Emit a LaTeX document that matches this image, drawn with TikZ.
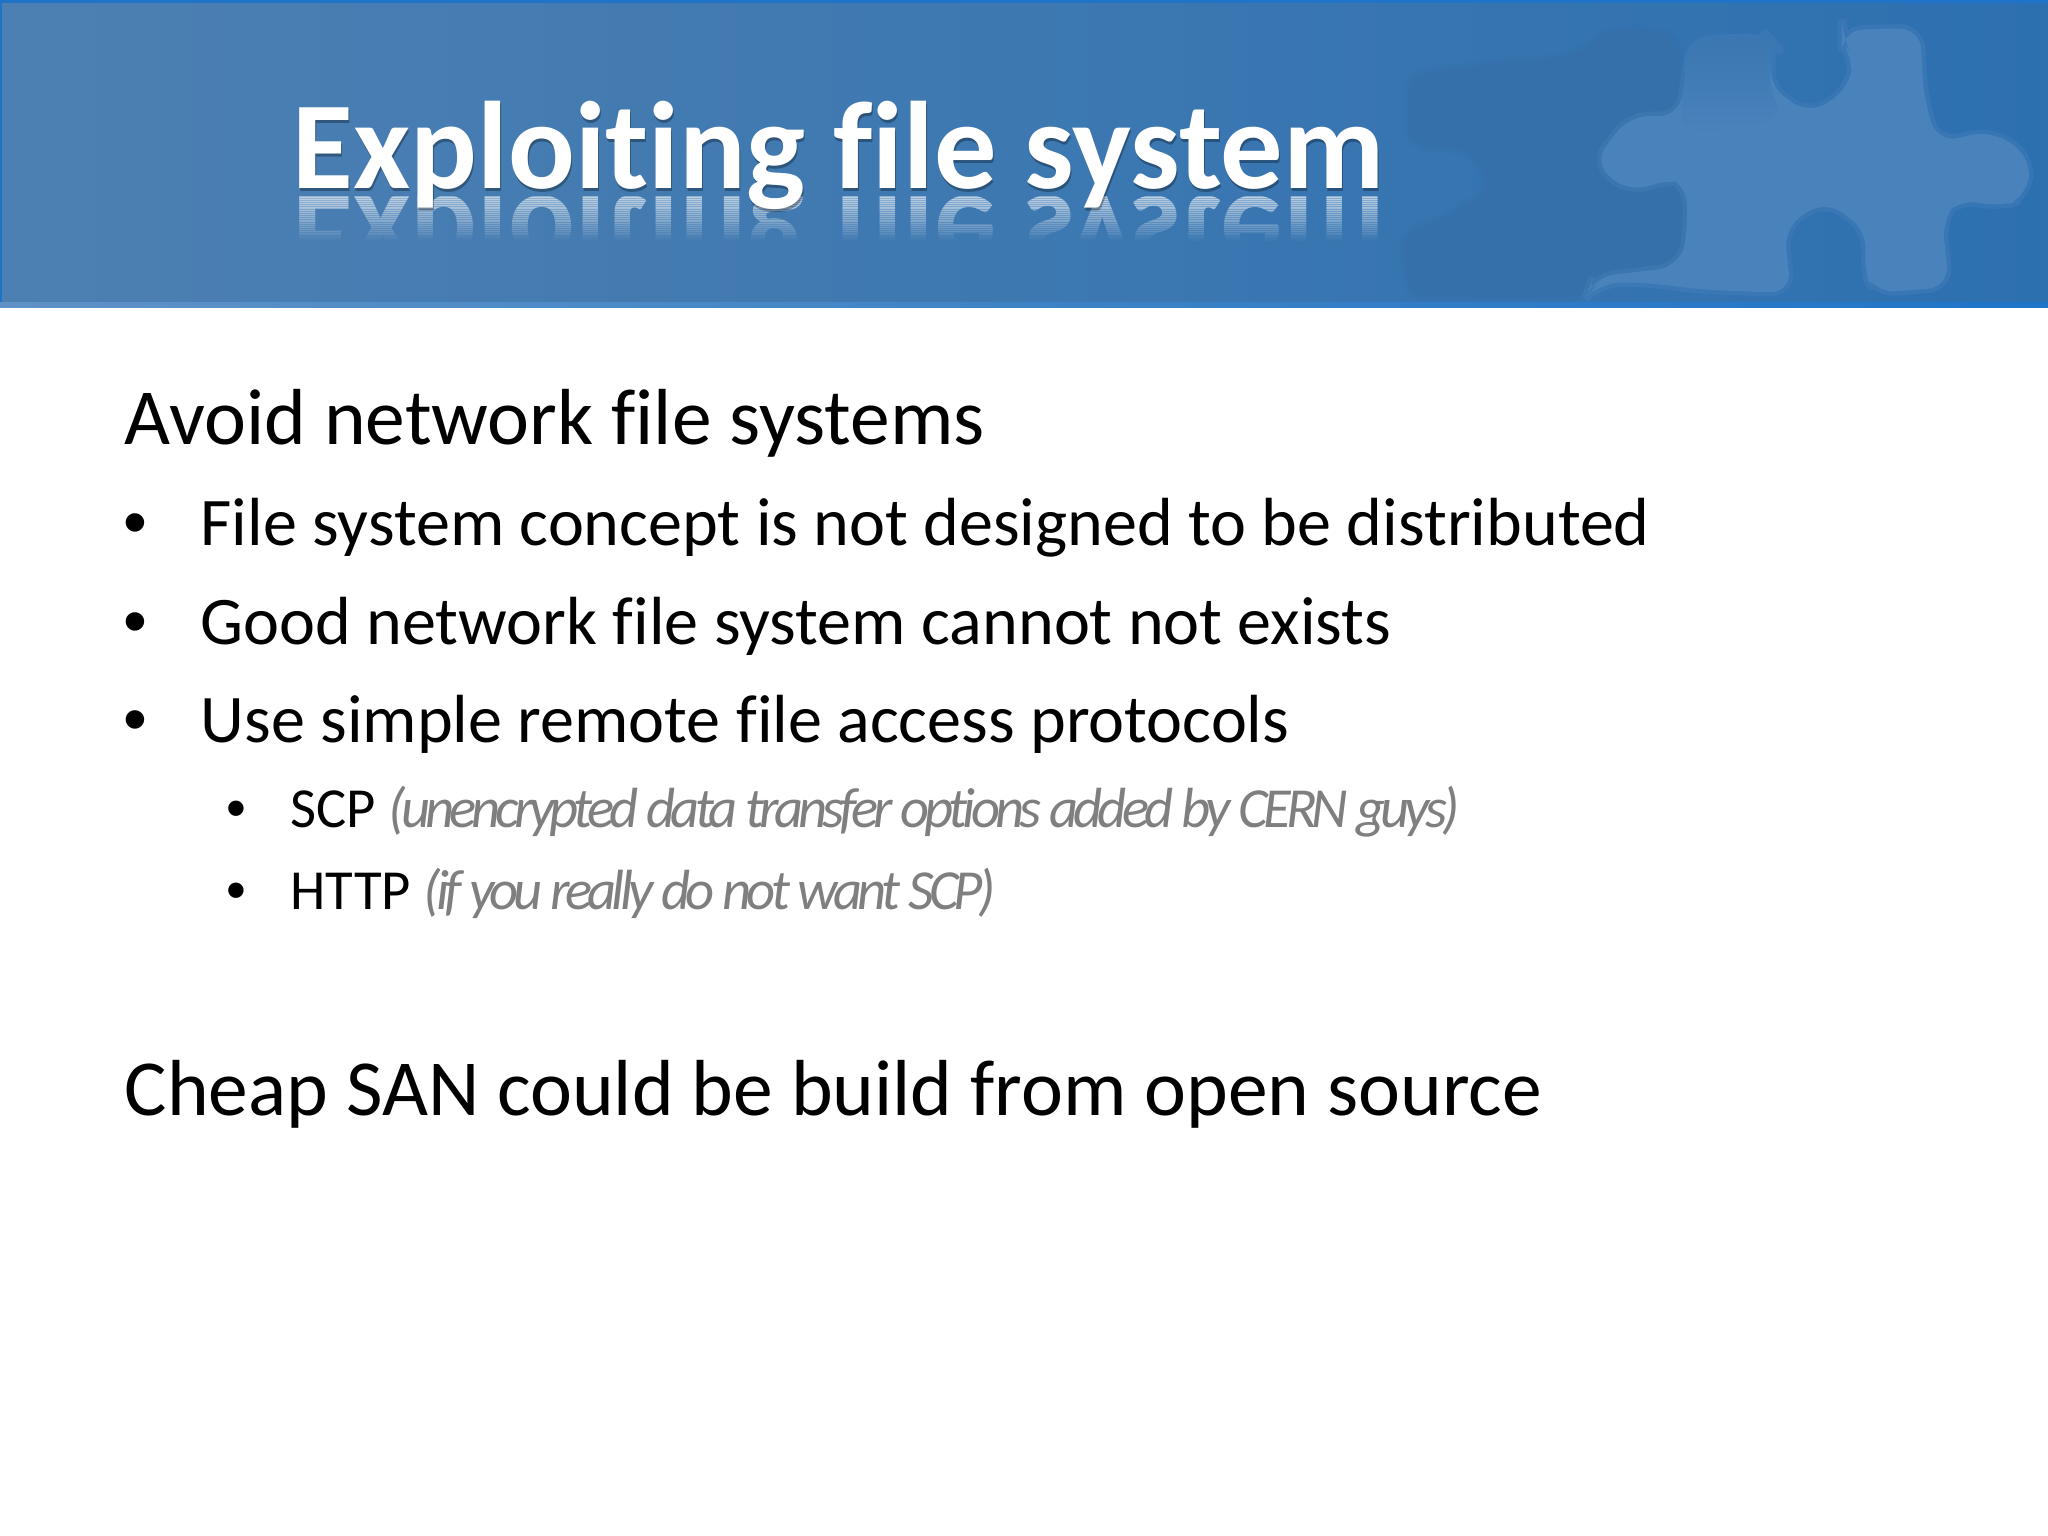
\documentclass[tikz,border=0pt]{standalone}
\usepackage{fontspec}
\setmainfont[Ligatures=NoCommon]{Carlito}
\newfontfamily\dotfont{Liberation Sans}
\definecolor{headleft}{HTML}{4D80B2}
\definecolor{headmid}{HTML}{3A76AE}
\definecolor{headright}{HTML}{2D70B0}
\definecolor{headline}{HTML}{1F74C8}
\definecolor{ruleleft}{HTML}{5E92C6}
\definecolor{piecelight}{HTML}{4A82BC}
\definecolor{piecedim}{HTML}{3B76B1}
\definecolor{piecedark}{HTML}{3570AB}
\definecolor{notegrey}{HTML}{7F7F7F}
\tikzset{
  titletext/.style={anchor=base west,inner sep=0pt,font=\fontsize{35.4}{40}\selectfont\bfseries},
  headtext/.style={anchor=base west,inner sep=0pt,font=\fontsize{22.6}{27}\selectfont},
  itemtext/.style={anchor=base west,inner sep=0pt,font=\fontsize{19.37}{23}\selectfont},
  subtext/.style={anchor=base west,inner sep=0pt,font=\fontsize{16.1}{19}\selectfont},
  notetext/.style={anchor=base west,inner sep=0pt,text=notegrey,font=\fontsize{16.1}{19}\selectfont\itshape\addfontfeatures{LetterSpace=-8.6}},
  itemdot/.style={anchor=base west,inner sep=0pt,font=\fontsize{19.37}{23}\selectfont\dotfont},
  subdot/.style={anchor=base west,inner sep=0pt,font=\fontsize{16.1}{19}\selectfont\dotfont},
  softedge/.style={draw=#1,draw opacity=0.35,line width=2.5pt}
}
\begin{document}
\begin{tikzpicture}[x=0.01cm,y=-0.01cm]
  \useasboundingbox (0,0) rectangle (2048,1536);
  % banner
  \shade[left color=headleft,middle color=headmid,right color=headright] (0,0) rectangle (2048,304);
  \fill[headline] (0,0) rectangle (2048,3);
  \fill[headline] (0,0) rectangle (2,304);
  % puzzle pieces
  \fill[piecedark,softedge=piecedark,rounded corners=5pt] (1408,75) -- (1500,62) -- (1582,55) -- (1600,32) -- (1650,28) -- (1680,40) -- (1680,117) -- (1630,115) -- (1593,163) -- (1630,193) -- (1671,178) -- (1686,182) -- (1688,233) -- (1679,267) -- (1593,277) -- (1586,297) -- (1408,297) -- (1403,230) -- (1430,225) -- (1492,190) -- (1470,150) -- (1408,145) -- cycle;
  \fill[piecelight,softedge=piecelight,rounded corners=6pt] (1842,30) -- (1920,28) -- (1924,100) -- (1938,143) -- (1991,130) -- (2031,157) -- (2027,197) -- (2000,208) -- (1960,198) -- (1942,217) -- (1949,287) -- (1875,293) -- (1862,270) -- (1869,233) -- (1826,200) -- (1784,227) -- (1791,293) -- (1706,290) -- (1639,282) -- (1599,283) -- (1586,297) -- (1593,277) -- (1679,267) -- (1688,233) -- (1686,182) -- (1671,178) -- (1630,193) -- (1593,163) -- (1630,115) -- (1679,117) -- (1691,40) -- (1768,37) -- (1777,47) -- (1766,83) -- (1809,115) -- (1851,87) -- (1853,57) -- (1842,40) -- cycle;
  \shade[top color=piecedim,bottom color=piecelight,rounded corners=6pt] (1691,40) -- (1768,37) -- (1777,47) -- (1766,83) -- (1785,118) -- (1690,135) -- (1679,117) -- cycle;
  \shade[left color=ruleleft,right color=headline] (0,302) rectangle (2048,307);
  % title
  \foreach \k [evaluate=\k as \fade using 0.42*(1-\k/24)] in {0,...,23} {
    \begin{scope}
      \clip (280,196+1.85*\k) rectangle (1400,196+1.85*\k+1.85);
      \node[titletext,text=white,yscale=-1,opacity=\fade] (titlemirror\k) at (292,196) {Exploiting file system};
    \end{scope}
  }
  \node[titletext,text=black,opacity=0.3] (titleshade) at (293,191) {Exploiting file system};
  \node[titletext,text=white] (title) at (292,188) {Exploiting file system};
  % body
  \node[headtext] (avoid) at (124,444) {Avoid network file systems};
  \node[itemdot] (dotone) at (123,545) {•};
  \node[itemtext] (itemone) at (200,545) {File system concept is not designed to be distributed};
  \node[itemdot] (dottwo) at (123,644) {•};
  \node[itemtext] (itemtwo) at (200,644) {Good network file system cannot not exists};
  \node[itemdot] (dotthree) at (123,742) {•};
  \node[itemtext] (itemthree) at (200,742) {Use simple remote file access protocols};
  \node[subdot] (dotscp) at (226,827) {•};
  \node[subtext] (scp) at (290,827) {SCP};
  \node[notetext] (scpnote) at (388,827) {(unencrypted data transfer options added by CERN guys)};
  \node[subdot] (dothttp) at (226,909) {•};
  \node[subtext] (http) at (290,909) {HTTP};
  \node[notetext] (httpnote) at (423,909) {(if you really do not want SCP)};
  \node[headtext] (cheap) at (124,1115) {Cheap SAN could be build from open source};
\end{tikzpicture}
\end{document}
